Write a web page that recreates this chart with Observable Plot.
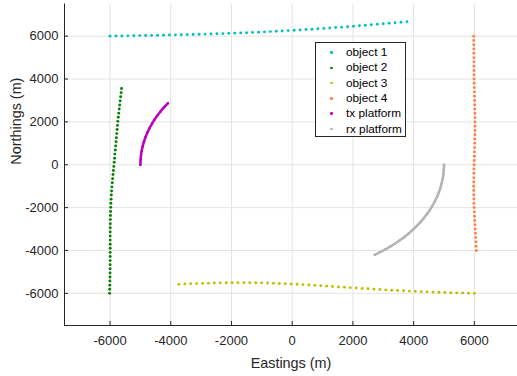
<!DOCTYPE html>
<html>
<head>
<meta charset="utf-8">
<script src="https://cdn.jsdelivr.net/npm/d3@7"></script>
<script src="https://cdn.jsdelivr.net/npm/@observablehq/plot@0.6"></script>
<style>
  body { margin: 0; background: #fff; }
  #wrap { position: relative; width: 517px; height: 376px; font-family: "Liberation Sans", Arial, sans-serif; }
  #legend { position: absolute; left: 315px; top: 42px; width: 89px; height: 93px; border: 1px solid #262626; background: #fff; }
  .row { position: absolute; left: 0; height: 15.3px; line-height: 15.3px; font-size: 11.8px; color: #000; white-space: nowrap; }
  .mk { position: absolute; left: 14px; top: 6.3px; width: 2.6px; height: 2.6px; border-radius: 50%; }
  .lb { position: absolute; left: 30px; top: 0; }
</style>
</head>
<body>
<div id="wrap"><div id="chart"></div><div id="legend"></div></div>
<script>
const seriesNames = ["object 1", "object 2", "object 3", "object 4", "tx platform", "rx platform"];
const seriesColors = ["#00bfbf", "#008000", "#bfbf00", "#ff8040", "#bf00bf", "#b3b3b3"];
const xTicks = [-6000, -4000, -2000, 0, 2000, 4000, 6000];
const yTicks = [-6000, -4000, -2000, 0, 2000, 4000, 6000];

const obj1X = [-6000,-5804,-5609,-5413,-5218,-5022,-4826,-4631,-4435,-4240,-4044,-3848,-3653,-3457,-3262,-3066,-2870,-2675,-2479,-2284,-2088,-1892,-1697,-1501,-1306,-1110,-914,-719,-523,-328,-132,64,259,455,650,846,1042,1237,1433,1628,1824,2020,2215,2411,2606,2802,2998,3193,3389,3584,3780];
const obj1Y = [6000,6005,6010,6015,6020,6025,6030,6035,6041,6047,6053,6060,6066,6073,6080,6087,6095,6103,6111,6120,6130,6140,6151,6162,6174,6186,6199,6212,6226,6240,6258,6274,6290,6307,6325,6343,6362,6381,6401,6421,6442,6463,6485,6507,6530,6553,6577,6601,6626,6651,6676];

const obj2X = [-6015,-6011,-6007,-6004,-6001,-5999,-5997,-5996,-5995,-5995,-5995,-5995,-5995,-5995,-5995,-5995,-5994,-5992,-5990,-5987,-5983,-5978,-5972,-5965,-5957,-5948,-5938,-5927,-5915,-5902,-5889,-5876,-5863,-5851,-5839,-5827,-5815,-5803,-5791,-5779,-5767,-5755,-5743,-5728,-5713,-5697,-5682,-5666,-5651,-5635,-5620];
const obj2Y = [-6000,-5809,-5618,-5427,-5236,-5045,-4853,-4662,-4471,-4280,-4089,-3898,-3707,-3516,-3325,-3134,-2942,-2751,-2560,-2369,-2178,-1987,-1796,-1605,-1414,-1223,-1031,-840,-649,-458,-267,-76,115,306,497,688,880,1071,1262,1453,1644,1835,2026,2217,2408,2599,2791,2982,3173,3364,3555];

const obj3X = [-3733,-3538,-3344,-3149,-2954,-2760,-2565,-2370,-2175,-1981,-1786,-1591,-1397,-1202,-1007,-813,-618,-423,-228,-34,161,356,550,745,940,1134,1329,1524,1719,1913,2108,2303,2497,2692,2887,3081,3276,3471,3666,3860,4055,4250,4444,4639,4834,5028,5223,5418,5613,5807,6000];
const obj3Y = [-5580,-5567,-5555,-5544,-5534,-5525,-5517,-5511,-5506,-5503,-5501,-5501,-5503,-5506,-5511,-5518,-5527,-5537,-5549,-5562,-5577,-5593,-5610,-5627,-5645,-5663,-5681,-5699,-5717,-5735,-5753,-5771,-5788,-5805,-5822,-5838,-5853,-5868,-5882,-5895,-5908,-5920,-5931,-5942,-5952,-5961,-5970,-5978,-5986,-5993,-6000];

const obj4X = [5980,5981,5982,5983,5984,5985,5986,5987,5988,5989,5990,5993,5997,6001,6005,6009,6013,6016,6019,6021,6022,6022,6021,6019,6016,6012,6008,6004,6000,5996,5992,5988,5985,5982,5980,5979,5979,5980,5983,5987,5992,5998,6005,6012,6020,6028,6036,6044,6052,6060,6068];
const obj4Y = [6000,5800,5600,5400,5200,5000,4800,4600,4400,4200,4000,3800,3600,3400,3200,3000,2800,2600,2400,2200,2000,1800,1600,1400,1200,1000,800,600,400,200,0,-200,-400,-600,-800,-1000,-1200,-1400,-1600,-1800,-2000,-2200,-2400,-2600,-2800,-3000,-3200,-3400,-3600,-3800,-4000];

const txX = [-5000,-4995,-4981,-4957,-4924,-4882,-4830,-4769,-4698,-4619,-4532,-4435,-4330,-4217,-4096];
const txY = [0,218,436,653,868,1082,1294,1504,1710,1913,2113,2309,2500,2687,2868];

const rxX = [5000,4995,4981,4957,4924,4882,4830,4769,4698,4619,4532,4435,4330,4217,4096,3967,3830,3686,3536,3378,3214,3044,2868,2718];
const rxY = [0,-218,-436,-653,-868,-1082,-1294,-1504,-1710,-1913,-2113,-2309,-2500,-2687,-2868,-3044,-3214,-3378,-3536,-3686,-3830,-3967,-4096,-4200];

const toRows = (xs, ys) => xs.map((x, i) => ({x, y: ys[i]}));
const dotted = [toRows(obj1X, obj1Y), toRows(obj2X, obj2Y), toRows(obj3X, obj3Y), toRows(obj4X, obj4Y)];
const arcs = [toRows(txX, txY), toRows(rxX, rxY)];

const axisColor = "#262626";
const gridColor = "#e4e4e4";
const W = 517, H = 376, mL = 64, mR = 0, mT = 3.5, mB = 51;
const innerW = W - mL - mR, innerH = H - mT - mB;

const marks = [
  Plot.gridX(xTicks, {stroke: gridColor, strokeOpacity: 1}),
  Plot.gridY(yTicks, {stroke: gridColor, strokeOpacity: 1})
];
dotted.forEach((rows, i) => {
  marks.push(Plot.dot(rows, {x: "x", y: "y", r: 1.45, fill: seriesColors[i], stroke: "none"}));
});
arcs.forEach((rows, j) => {
  const c = seriesColors[4 + j];
  marks.push(Plot.line(rows, {x: "x", y: "y", stroke: c, strokeWidth: 2.5, strokeLinecap: "round"}));
  marks.push(Plot.dot(rows, {x: "x", y: "y", r: 1.25, fill: c, stroke: "none"}));
});
marks.push(
  Plot.ruleX(xTicks, {x: d => d, insetTop: innerH - 4, stroke: axisColor}),
  Plot.ruleY(yTicks, {y: d => d, insetRight: innerW - 4, stroke: axisColor}),
  Plot.ruleX([-7500], {stroke: axisColor}),
  Plot.ruleY([-7500], {stroke: axisColor}),
  Plot.axisX(xTicks, {tickSize: 0, tickPadding: 10, tickFormat: d => String(d), fontSize: 13, color: axisColor, label: null}),
  Plot.axisY(yTicks, {tickSize: 0, tickPadding: 6, tickFormat: d => String(d), fontSize: 13, color: axisColor, label: null}),
  Plot.text(["Eastings (m)"], {text: d => d, frameAnchor: "bottom", dy: 42, fontSize: 14.4, fill: axisColor}),
  Plot.text(["Northings (m)"], {text: d => d, frameAnchor: "left", dx: -48, rotate: -90, fontSize: 14.4, fill: axisColor})
);

const chart = Plot.plot({
  width: W, height: H,
  marginLeft: mL, marginRight: mR, marginTop: mT, marginBottom: mB,
  style: {fontFamily: "'Liberation Sans', Arial, sans-serif", background: "transparent", overflow: "visible"},
  x: {domain: [-7500, 7421]},
  y: {domain: [-7500, 7500]},
  marks
});
document.getElementById("chart").appendChild(chart);

const legend = document.getElementById("legend");
seriesNames.forEach((name, i) => {
  const row = document.createElement("div");
  row.className = "row";
  row.style.top = (2 + i * 15.3) + "px";
  row.style.width = "89px";
  const mk = document.createElement("span");
  mk.className = "mk";
  mk.style.background = seriesColors[i];
  const lb = document.createElement("span");
  lb.className = "lb";
  lb.textContent = name;
  row.appendChild(mk);
  row.appendChild(lb);
  legend.appendChild(row);
});
</script>
</body>
</html>
